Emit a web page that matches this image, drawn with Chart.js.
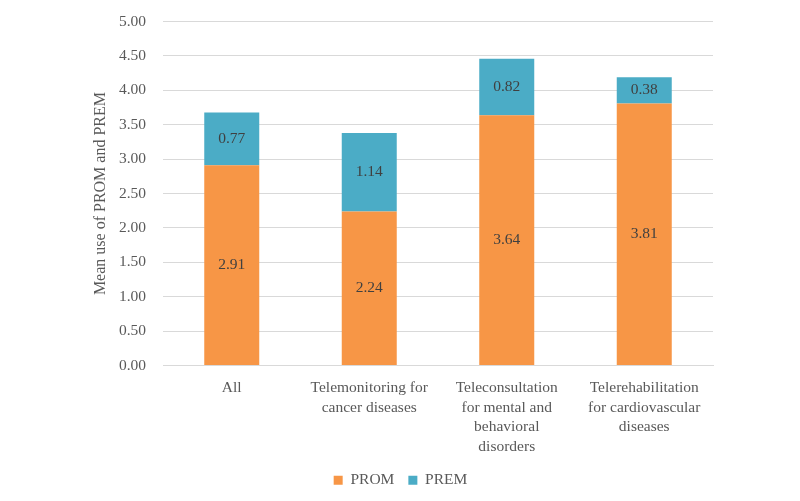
<!DOCTYPE html>
<html>
<head>
<meta charset="utf-8">
<script src="https://cdn.jsdelivr.net/npm/chart.js@4"></script>
<style>
html,body{margin:0;padding:0;background:#fff;}
#wrap{width:800px;height:501px;}
</style>
</head>
<body>
<div id="wrap"><canvas id="c"></canvas></div>
<script>
const categories = [
  ['All'],
  ['Telemonitoring for', 'cancer diseases'],
  ['Teleconsultation', 'for mental and', 'behavioral', 'disorders'],
  ['Telerehabilitation', 'for cardiovascular', 'diseases']
];
const promValues = [2.91, 2.24, 3.64, 3.81];
const premValues = [0.77, 1.14, 0.82, 0.38];
const yTicks = [0, 0.5, 1, 1.5, 2, 2.5, 3, 3.5, 4, 4.5, 5];

const FONT = "'Liberation Serif', serif";
const TXT = '#595959';
const FS = 15.5;

const segLabels = {
  id: 'segLabels',
  afterDatasetsDraw(chart) {
    const ctx = chart.ctx;
    ctx.save();
    ctx.font = FS + 'px ' + FONT;
    ctx.fillStyle = '#404040';
    ctx.textAlign = 'center';
    ctx.textBaseline = 'middle';
    chart.data.datasets.forEach((ds, di) => {
      const meta = chart.getDatasetMeta(di);
      meta.data.forEach((bar, i) => {
        const p = bar.getProps(['x', 'y', 'base'], true);
        ctx.fillText(ds.data[i].toFixed(2), p.x, (p.y + p.base) / 2);
      });
    });
    ctx.restore();
  }
};

new Chart(document.getElementById('c'), {
  type: 'bar',
  data: {
    labels: categories,
    datasets: [
      { label: 'PROM', data: promValues, backgroundColor: '#F79646', barPercentage: 0.8, categoryPercentage: 0.5 },
      { label: 'PREM', data: premValues, backgroundColor: '#4BACC6', barPercentage: 0.8, categoryPercentage: 0.5 }
    ]
  },
  options: {
    responsive: true,
    maintainAspectRatio: false,
    animation: false,
    devicePixelRatio: 1,
    layout: { padding: { left: 88, right: 87, top: 21.6, bottom: 3 } },
    plugins: {
      tooltip: { enabled: false },
      legend: {
        position: 'bottom',
        labels: {
          font: { family: FONT, size: FS },
          color: TXT,
          boxWidth: 9,
          boxHeight: 9,
          padding: 14
        }
      }
    },
    scales: {
      x: {
        stacked: true,
        grid: { display: false },
        border: { display: true, color: '#d9d9d9', width: 1 },
        ticks: {
          color: TXT,
          font: { family: FONT, size: FS, lineHeight: 1.26 },
          maxRotation: 0,
          autoSkip: false,
          padding: 5
        },
        afterFit(s) { s.height = 93; }
      },
      y: {
        stacked: true,
        min: 0,
        max: 5,
        afterBuildTicks(s) { s.ticks = yTicks.map(v => ({ value: v })); },
        grid: { color: '#d9d9d9', drawTicks: false },
        border: { display: false },
        ticks: {
          color: TXT,
          font: { family: FONT, size: FS },
          padding: 17,
          callback: v => Number(v).toFixed(2)
        },
        title: {
          display: true,
          text: 'Mean use of PROM and PREM',
          color: TXT,
          font: { family: FONT, size: 16 },
          padding: { top: 3, bottom: 4 }
        },
        afterFit(s) { s.width = 75; s.paddingTop = 0; s.paddingBottom = 0; }
      }
    }
  },
  plugins: [segLabels]
});
</script>
</body>
</html>
